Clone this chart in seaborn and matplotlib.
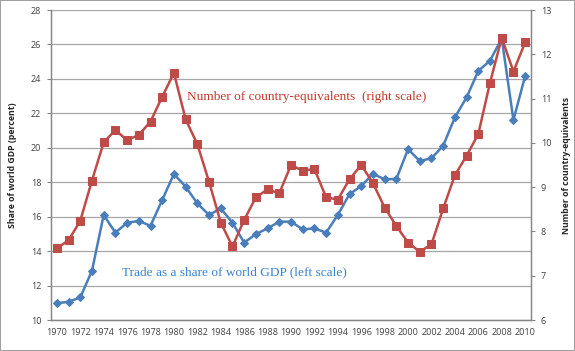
import matplotlib
matplotlib.use("Agg")
import matplotlib.pyplot as plt
import seaborn as sns
import pandas as pd
import numpy as np

years = list(range(1970, 2011))
trade_share = [10.97, 11.06, 11.31, 12.86, 16.10, 15.07, 15.65, 15.75, 15.47, 16.97,
               18.48, 17.74, 16.77, 16.10, 16.48, 15.65, 14.49, 14.99, 15.32, 15.71,
               15.71, 15.26, 15.32, 15.07, 16.10, 17.31, 17.78, 18.48, 18.17, 18.19,
               19.92, 19.23, 19.39, 20.12, 21.77, 22.93, 24.46, 25.06, 26.35, 21.61,
               24.17]
country_equiv = [7.62, 7.80, 8.24, 9.15, 10.01, 10.29, 10.06, 10.18, 10.48, 11.04,
                 11.58, 10.53, 9.97, 9.12, 8.20, 7.66, 8.26, 8.77, 8.95, 8.86,
                 9.50, 9.37, 9.41, 8.77, 8.72, 9.18, 9.50, 9.09, 8.54, 8.12,
                 7.75, 7.54, 7.71, 8.52, 9.27, 9.71, 10.20, 11.36, 12.37, 11.61,
                 12.27]
left_ticks = [10, 12, 14, 16, 18, 20, 22, 24, 26, 28]
right_ticks = [6, 7, 8, 9, 10, 11, 12, 13]
xtick_years = list(range(1970, 2011, 2))

df = pd.DataFrame({"year": years, "trade": trade_share, "equiv": country_equiv})

sns.set_style("white")
plt.rcParams["font.family"] = ["Open Sans", "DejaVu Sans"]

blue = "#4A7EBB"
red = "#BE4B48"
grid_c = "#A6A6A6"
axis_c = "#868686"
tick_txt = "#404040"

fig = plt.figure(figsize=(5.75, 3.51), dpi=100, linewidth=1.2, edgecolor="#A0A0A0")
ax = fig.add_axes([51 / 575, 1 - 320 / 351, 480 / 575, 310 / 351])
ax2 = ax.twinx()

sns.lineplot(data=df, x="year", y="trade", ax=ax, color=blue, marker="D",
             markersize=4.5, markeredgecolor=blue, linewidth=1.8, zorder=3)
sns.lineplot(data=df, x="year", y="equiv", ax=ax2, color=red, marker="s",
             markersize=6, markeredgecolor=red, linewidth=1.8, zorder=3)

ax.set_xlim(1969.5, 2010.5)
ax.set_ylim(10, 28)
ax2.set_ylim(6, 13)
ax.set_yticks(left_ticks)
ax2.set_yticks(right_ticks)
ax.set_xticks(xtick_years)
ax.set_xticks(np.arange(1969.5, 2011, 1), minor=True)
ax.tick_params(axis="x", which="major", length=0, labelsize=6.5, colors=tick_txt, pad=6)
ax.tick_params(axis="x", which="minor", length=3, color=axis_c, direction="out")
ax.tick_params(axis="y", length=3, color=axis_c, labelsize=6.5, labelcolor=tick_txt, pad=4)
ax2.tick_params(axis="y", length=3, color=axis_c, labelsize=6.5, labelcolor=tick_txt, pad=4)

ax.yaxis.grid(True, color=grid_c, linewidth=0.9)
ax.set_axisbelow(True)
for a in (ax, ax2):
    a.spines["top"].set_visible(False)
    for s in ["left", "right", "bottom"]:
        a.spines[s].set_color(axis_c)
        a.spines[s].set_linewidth(0.9)

ax.set_xlabel("")
ax.set_ylabel("Share of world GDP (percent)", fontsize=6.3, fontweight="bold", labelpad=10)
ax2.set_ylabel("Number of country-equivalents", fontsize=6.3, fontweight="bold", labelpad=8)

ax.text(1991.33, 22.95, "Number of country-equivalents  (right scale)",
        color="#C0392B", fontsize=9.6, family=["Liberation Serif"], ha="center", va="center")
ax.text(1985.13, 12.75, "Trade as a share of world GDP (left scale)",
        color="#3A82CC", fontsize=9.6, family=["Liberation Serif"], ha="center", va="center")

fig.savefig("out.png", dpi=100, edgecolor=fig.get_edgecolor())
